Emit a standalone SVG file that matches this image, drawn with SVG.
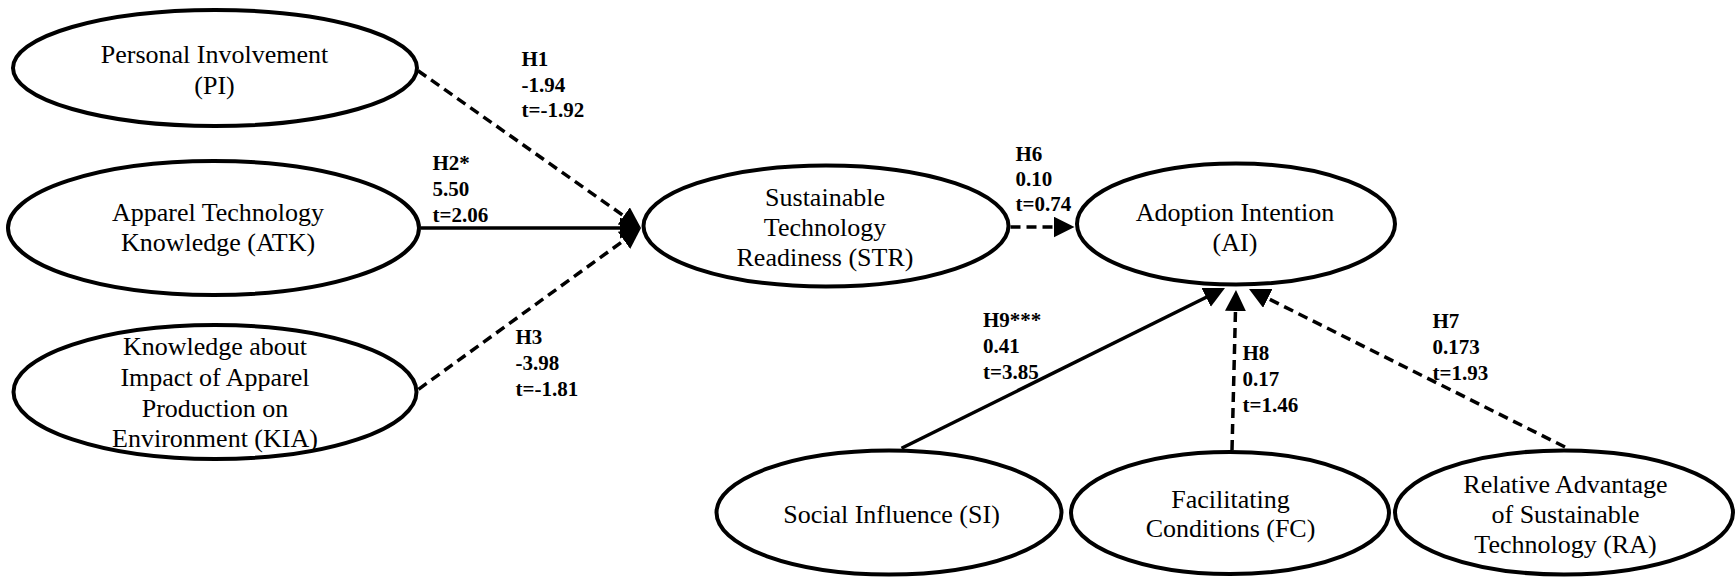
<svg xmlns="http://www.w3.org/2000/svg" width="1736" height="579" viewBox="0 0 1736 579">
  <style>
    .node ellipse { fill: #ffffff; stroke: #000000; stroke-width: 4; }
    .node text { font-family: "Liberation Serif", "Times New Roman", serif; font-size: 26px; fill: #000000; text-anchor: middle; }
    .edge { fill: none; stroke: #000000; stroke-width: 3.5; }
    .dashed { stroke-dasharray: 10 6; }
    .lbl { font-family: "Liberation Serif", "Times New Roman", serif; font-size: 21px; font-weight: bold; fill: #000000; }
  </style>
  <defs>
    <marker id="arrow" markerUnits="userSpaceOnUse" markerWidth="22" markerHeight="22" refX="17" refY="10.5" orient="auto">
      <path d="M0,0 L21,10.5 L0,21 z" fill="#000000"/>
    </marker>
  </defs>
  <rect width="1736" height="579" fill="#ffffff"/>

  <!-- paths between constructs -->
  <g id="connectors">
    <line class="edge dashed" x1="418" y1="70.7" x2="637.7" y2="225.7" marker-end="url(#arrow)"/>
    <line class="edge" x1="421" y1="228" x2="637" y2="228" marker-end="url(#arrow)"/>
    <line class="edge dashed" x1="418.5" y1="389.3" x2="637.8" y2="230.4" marker-end="url(#arrow)"/>
    <line class="edge dashed" x1="1010.5" y1="227" x2="1070.5" y2="227" marker-end="url(#arrow)"/>
    <line class="edge" x1="901.5" y1="448.3" x2="1221.4" y2="289.8" marker-end="url(#arrow)"/>
    <line class="edge dashed" x1="1232" y1="450" x2="1235.9" y2="294" marker-end="url(#arrow)"/>
    <line class="edge dashed" x1="1565" y1="447" x2="1252.6" y2="290.8" marker-end="url(#arrow)"/>
  </g>

  <!-- path coefficients -->
  <g id="labels">
    <text class="lbl" x="521.5"><tspan x="521.5" y="66">H1</tspan><tspan x="521.5" y="91.5">-1.94</tspan><tspan x="521.5" y="117">t=-1.92</tspan></text>
    <text class="lbl" x="432.5"><tspan x="432.5" y="170">H2*</tspan><tspan x="432.5" y="196">5.50</tspan><tspan x="432.5" y="222">t=2.06</tspan></text>
    <text class="lbl" x="515.5"><tspan x="515.5" y="344">H3</tspan><tspan x="515.5" y="370">-3.98</tspan><tspan x="515.5" y="396">t=-1.81</tspan></text>
    <text class="lbl" x="1015.5"><tspan x="1015.5" y="161">H6</tspan><tspan x="1015.5" y="186">0.10</tspan><tspan x="1015.5" y="211">t=0.74</tspan></text>
    <text class="lbl" x="983"><tspan x="983" y="327">H9***</tspan><tspan x="983" y="353">0.41</tspan><tspan x="983" y="379">t=3.85</tspan></text>
    <text class="lbl" x="1242.5"><tspan x="1242.5" y="360">H8</tspan><tspan x="1242.5" y="386">0.17</tspan><tspan x="1242.5" y="412">t=1.46</tspan></text>
    <text class="lbl" x="1432.5"><tspan x="1432.5" y="328">H7</tspan><tspan x="1432.5" y="354">0.173</tspan><tspan x="1432.5" y="380">t=1.93</tspan></text>
  </g>

  <g id="PI" class="node">
    <ellipse cx="215" cy="68" rx="202" ry="58"/>
    <text x="214.5" y="63">Personal Involvement</text>
    <text x="214.5" y="94">(PI)</text>
  </g>
  <g id="ATK" class="node">
    <ellipse cx="213.5" cy="228" rx="205.5" ry="67"/>
    <text x="218" y="221">Apparel Technology</text>
    <text x="218" y="251">Knowledge (ATK)</text>
  </g>
  <g id="KIA" class="node">
    <ellipse cx="215" cy="392" rx="201.5" ry="67"/>
    <text x="215" y="355">Knowledge about</text>
    <text x="215" y="385.5">Impact of Apparel</text>
    <text x="215" y="416.5">Production on</text>
    <text x="215" y="447">Environment (KIA)</text>
  </g>
  <g id="STR" class="node">
    <ellipse cx="826" cy="226" rx="182.5" ry="60.5"/>
    <text x="825" y="206">Sustainable</text>
    <text x="825" y="235.5">Technology</text>
    <text x="825" y="266">Readiness (STR)</text>
  </g>
  <g id="AI" class="node">
    <ellipse cx="1236" cy="224" rx="159" ry="60.5"/>
    <text x="1235" y="221">Adoption Intention</text>
    <text x="1235" y="251">(AI)</text>
  </g>
  <g id="SI" class="node">
    <ellipse cx="889" cy="512.5" rx="172.5" ry="62"/>
    <text x="891.5" y="523">Social Influence (SI)</text>
  </g>
  <g id="FC" class="node">
    <ellipse cx="1230" cy="513" rx="159" ry="61"/>
    <text x="1230.5" y="508">Facilitating</text>
    <text x="1230.5" y="537">Conditions (FC)</text>
  </g>
  <g id="RA" class="node">
    <ellipse cx="1564" cy="512.5" rx="169" ry="62"/>
    <text x="1565.5" y="492.5">Relative Advantage</text>
    <text x="1565.5" y="523">of Sustainable</text>
    <text x="1565.5" y="553">Technology (RA)</text>
  </g>
</svg>
